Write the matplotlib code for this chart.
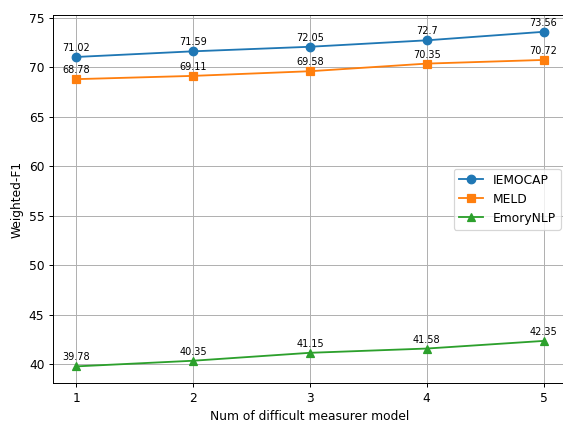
import numpy as np
import matplotlib
matplotlib.use("Agg")
import matplotlib.pyplot as plt

x = [1, 2, 3, 4, 5]
iemocap = [71.02, 71.59, 72.05, 72.7, 73.56]
meld = [68.78, 69.11, 69.58, 70.35, 70.72]
emory = [39.78, 40.35, 41.15, 41.58, 42.35]

fig = plt.figure(figsize=(6.4, 4.785), dpi=88)
# the reference is cropped on the right, so the axes run past the figure edge
ax = fig.add_axes([0.0941, 0.09, 0.9124, 0.874])

ax.plot(x, iemocap, marker="o", markersize=7, label="IEMOCAP")
ax.plot(x, meld, marker="s", markersize=7, label="MELD")
ax.plot(x, emory, marker="^", markersize=7, label="EmoryNLP")

for series in (iemocap, meld, emory):
    for xi, yi in zip(x, series):
        ax.annotate(str(yi), (xi, yi), textcoords="offset points", xytext=(0, 5),
                    ha="center", fontsize=8)

ax.set_xticks(x)
ax.set_xlabel("Num of difficult measurer model")
ax.set_ylabel("Weighted-F1")
ax.grid(True)
ax.spines["right"].set_visible(False)
ax.legend(loc="center right")

fig.savefig("out.png", dpi=88)
